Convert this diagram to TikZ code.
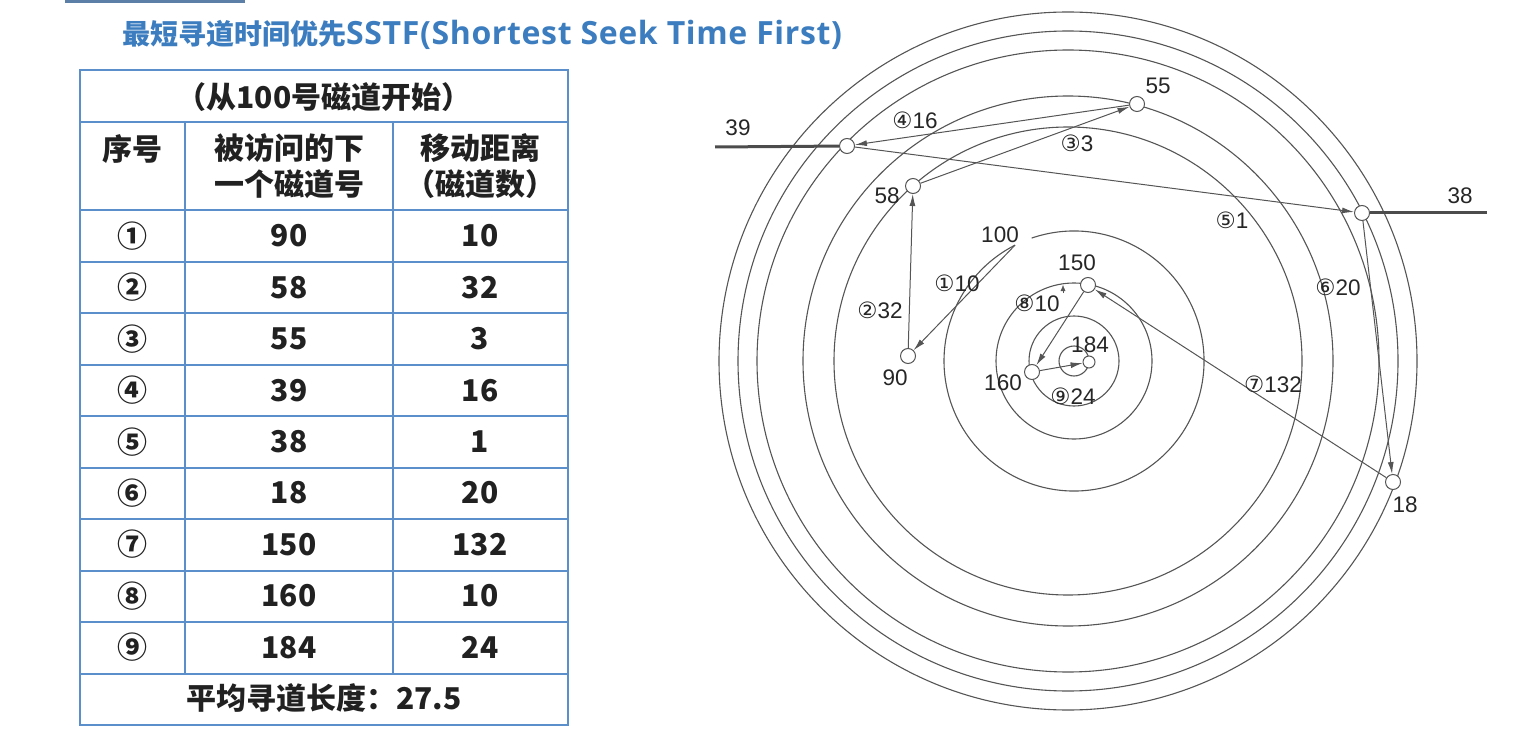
\documentclass[tikz,border=0pt]{standalone}
\usepackage{fontspec}
\usepackage{xcolor}
\usepackage{tikz}
\usetikzlibrary{arrows.meta}
\setmainfont{Noto Sans CJK SC}
\newfontfamily\arialfont{Liberation Sans}
\newfontfamily\circfont{DejaVu Sans}
\newfontfamily\latinfont[LetterSpace=2]{Open Sans}
\definecolor{titleblue}{HTML}{3C7DC0}
\definecolor{gridblue}{HTML}{5A8FCB}
\definecolor{topline}{HTML}{5B7FA6}
\definecolor{disk}{HTML}{555555}

\begin{document}
\begin{tikzpicture}[x=1pt, y=-1pt,
    track/.style={disk, line width=1.1pt},
    arr/.style={-{Latex[length=12pt,width=6pt]}, disk, line width=1pt},
    pt/.style={circle, draw=disk, fill=white, line width=1pt, inner sep=0pt, minimum size=15pt},
    lab/.style={font=\arialfont\fontsize{22.5}{25}\selectfont, text=black!85, inner sep=1pt},
    cell/.style={font=\fontsize{30}{36}\selectfont\bfseries, text=black!87, align=center, inner sep=0pt}]
    \useasboundingbox (0,0) rectangle (1538,743);
    \draw[topline, line width=3pt] (65,2) -- (245,2);
    \node[font=\fontsize{28}{32}\selectfont\bfseries, text=titleblue, anchor=west, inner sep=0pt] (title) at (122,35) {最短寻道时间优先{\latinfont\fontsize{32}{34}\selectfont SSTF(Shortest Seek Time First)}};

    \draw[gridblue, line width=1.6pt] (80,70) rectangle (568,725);
    \foreach \y in {122,210,262,313,365,416,468,519,571,622,674}
      \draw[gridblue, line width=1.6pt] (80,\y) -- (568,\y);
    \draw[gridblue, line width=1.6pt] (185,122) -- (185,674) (393,122) -- (393,674);
    \node[cell] (start) at (324,97) {（从100号磁道开始）};
    \node[cell] (h1) at (132,149) {序号};
    \node[cell] (h2) at (289,166) {被访问的下\\一个磁道号};
    \node[cell] (h3) at (480,166) {移动距离\\（磁道数）};
    \foreach \c/\t/\d [count=\k] in {①/90/10, ②/58/32, ③/55/3, ④/39/16, ⑤/38/1, ⑥/18/20, ⑦/150/132, ⑧/160/10, ⑨/184/24} {
      \pgfmathsetmacro\yy{236+(\k-1)*51.4}
      \node[cell] (seq\k) at (132,\yy) {\c};
      \node[cell] (trk\k) at (289,\yy) {\t};
      \node[cell] (dst\k) at (480,\yy) {\d};
    }
    \node[cell] (avg) at (324,698) {平均寻道长度：27.5};

    \coordinate (O) at (1068,361);
    \coordinate (I) at (1074,361);
    \draw[track] (O) circle (349pt) (O) circle (330pt) (O) circle (311pt) (O) circle (265pt) (O) circle (234pt);
    \draw[track] (I) circle (78pt) (I) circle (45pt) (I) circle (15pt);
    \draw[track] (I) ++(251:130) arc[start angle=251, end angle=603, radius=130];
    \path (I) ++(243:130) coordinate (P100);

    \coordinate (E39) at (715,147);
    \coordinate (E38) at (1487,213);
    \node[pt] (T18) at (1393,482) {};
    \node[pt] (T38) at (1362,213) {};
    \node[pt] (T39) at (847,146) {};
    \node[pt] (T55) at (1137,104) {};
    \node[pt] (T58) at (913,186) {};
    \node[pt] (T90) at (908,356) {};
    \node[pt] (T150) at (1088,285) {};
    \node[pt] (T160) at (1032,372) {};
    \node[pt, minimum size=12pt] (T184) at (1089,362) {};
    \draw[line width=3pt, black!70] (E39) -- (T39);
    \draw[line width=3pt, black!70] (T38) -- (E38);

    \draw[arr] (P100) -- (T90);
    \draw[arr] (T90) -- (T58);
    \draw[arr] (T58) -- (T55);
    \draw[arr] (T55) -- (T39);
    \draw[arr] (T39) -- (T38);
    \draw[arr] (T38) -- (T18);
    \draw[arr] (T18) -- (T150);
    \draw[arr] (T150) -- (T160);
    \draw[arr] (T160) -- (T184);
    \coordinate (M8) at (1063,293);
    \coordinate (N8) at (1063,285);
    \draw[-{Latex[length=6pt,width=5pt]}, disk] (M8) -- (N8);

    \node[lab] (L18) at (1405,505) {18};
    \node[lab] (L38) at (1460,196) {38};
    \node[lab] (L39) at (738,128) {39};
    \node[lab] (L55) at (1158,86) {55};
    \node[lab] (L58) at (887,196) {58};
    \node[lab] (L90) at (895,378) {90};
    \node[lab] (L100) at (1000,235) {100};
    \node[lab] (L150) at (1077,263) {150};
    \node[lab] (L160) at (1003,383) {160};
    \node[lab] (L184) at (1090,345) {184};
    \node[lab] (S1) at (957,283) {{\circfont ①}10};
    \node[lab] (S2) at (880,310) {{\circfont ②}32};
    \node[lab] (S3) at (1077,143) {{\circfont ③}3};
    \node[lab] (S4) at (915,120) {{\circfont ④}16};
    \node[lab] (S5) at (1232,220) {{\circfont ⑤}1};
    \node[lab] (S6) at (1338,287) {{\circfont ⑥}20};
    \node[lab] (S7) at (1273,384) {{\circfont ⑦}132};
    \node[lab] (S8) at (1037,303) {{\circfont ⑧}10};
    \node[lab] (S9) at (1073,396) {{\circfont ⑨}24};
  \end{tikzpicture}
\end{document}
